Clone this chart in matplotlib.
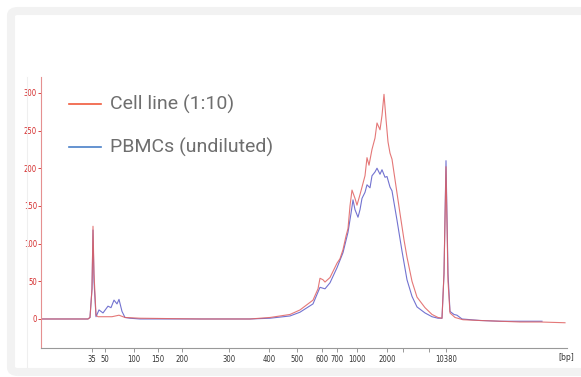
import numpy as np
import matplotlib.pyplot as plt
from matplotlib.patches import FancyBboxPatch
from matplotlib.lines import Line2D

# run position (scan units) and fluorescence for the two samples
red_x = [41, 60, 80, 88, 90, 92, 93, 94, 96, 98, 105, 112, 119, 125, 140, 200, 250, 270, 290, 300,
         313, 318, 320, 323, 325, 330, 337, 340, 343, 346, 348, 350, 352, 355, 357, 360, 362, 365,
         367, 369, 372, 375, 377, 380, 382, 384, 386, 388, 390, 392, 395, 400, 404, 407, 412, 417,
         425, 432, 438, 442, 444, 446, 448, 450, 455, 463, 480, 500, 520, 540, 565]
red_y = [0, 0, 0, 0, 2, 40, 123, 60, 5, 3, 3, 3, 5, 2, 1, 0, 0, 2, 6, 12,
         25, 40, 54, 52, 49, 55, 74, 80, 92, 110, 120, 150, 171, 160, 151, 165, 175, 190,
         214, 204, 225, 240, 260, 251, 270, 298, 265, 235, 220, 212, 185, 140, 105, 82, 50, 29,
         15, 6, 2, 1, 60, 202, 50, 8, 2, -1, -2, -3, -4, -4, -5]

blue_x = [41, 60, 80, 88, 90, 92, 93, 94, 96, 99, 103, 108, 111, 114, 117, 119, 122, 125, 130, 140,
          200, 250, 270, 290, 300, 313, 320, 325, 330, 337, 343, 348, 351, 353, 355, 358, 360, 362,
          365, 367, 370, 372, 375, 377, 380, 382, 385, 387, 390, 392, 397, 402, 407, 412, 417, 425,
          432, 438, 442, 444, 446, 448, 450, 454, 457, 462, 480, 500, 520, 542]
blue_y = [0, 0, 0, 0, 2, 40, 118, 50, 3, 12, 8, 17, 15, 25, 20, 26, 10, 2, 1, 0,
          0, 0, 1, 4, 9, 20, 42, 40, 48, 68, 88, 115, 140, 158, 145, 135, 145, 160,
          168, 178, 174, 190, 195, 200, 192, 198, 188, 189, 175, 170, 131, 90, 52, 30, 16, 8,
          3, 1, 1, 60, 210, 60, 10, 6, 5, 0, -2, -3, -3, -3]

size_pos = [92, 105, 134, 158, 182, 229, 269, 297, 322, 337, 357, 387, 403, 429, 446]
size_lab = ["35", "50", "100", "150", "200", "300", "400", "500", "600", "700", "1000", "2000", "", "", "10380"]

W, H = 581, 377
fig = plt.figure(figsize=(W / 100, H / 100), dpi=100)

# card frame
frame = FancyBboxPatch((11 / W, 1 - 372 / H), 700 / W, 361 / H,
                       boxstyle="round,pad=0,rounding_size=0.012",
                       transform=fig.transFigure, fill=False,
                       edgecolor="#f2f2f2", linewidth=5.8)
fig.patches.append(frame)
fig.add_artist(Line2D([27 / W, 27 / W], [1 - 77 / H, 1 - 367 / H],
                      transform=fig.transFigure, color="#efefef", lw=0.8))

ax = fig.add_axes([41 / W, 1 - 348 / H, (567 - 41) / W, (348 - 77) / H])
ax.plot(blue_x, blue_y, color="#5a5ac8", lw=0.8, alpha=0.85)
ax.plot(red_x, red_y, color="#e06060", lw=0.8, alpha=0.85)

ax.set_xlim(41, 567)
ax.set_ylim(-38.5, 321)
ax.set_yticks(np.arange(0, 301, 50))
ax.tick_params(axis="y", colors="#d42a2a", labelsize=5.5, length=2, width=0.6, pad=1)
ax.set_xticks(size_pos)
ax.set_xticklabels(size_lab)
ax.tick_params(axis="x", colors="#888888", labelcolor="#333333", labelsize=5.5,
               length=3, width=0.6, pad=2)
for lab in ax.get_xticklabels() + ax.get_yticklabels():
    lab.set_fontstretch("condensed")
ax.spines["top"].set_visible(False)
ax.spines["right"].set_visible(False)
ax.spines["left"].set_color("#e59090")
ax.spines["bottom"].set_color("#999999")
ax.spines["left"].set_linewidth(0.8)
ax.spines["bottom"].set_linewidth(0.8)
ax.text(566, -45, "[bp]", fontsize=5.5, color="#333333", ha="center", va="top")

# legend
for yy, col, txt in [(104, "#f05a3c", "Cell line (1:10)"), (147, "#4a80c8", "PBMCs (undiluted)")]:
    fig.add_artist(Line2D([69 / W, 101 / W], [1 - yy / H, 1 - yy / H],
                          transform=fig.transFigure, color=col, lw=1.2))
    fig.text(110 / W, 1 - yy / H, txt, fontsize=14, color="#6e6e6e",
             family="Roboto", va="center", ha="left")

fig.savefig("out.png", dpi=100)
